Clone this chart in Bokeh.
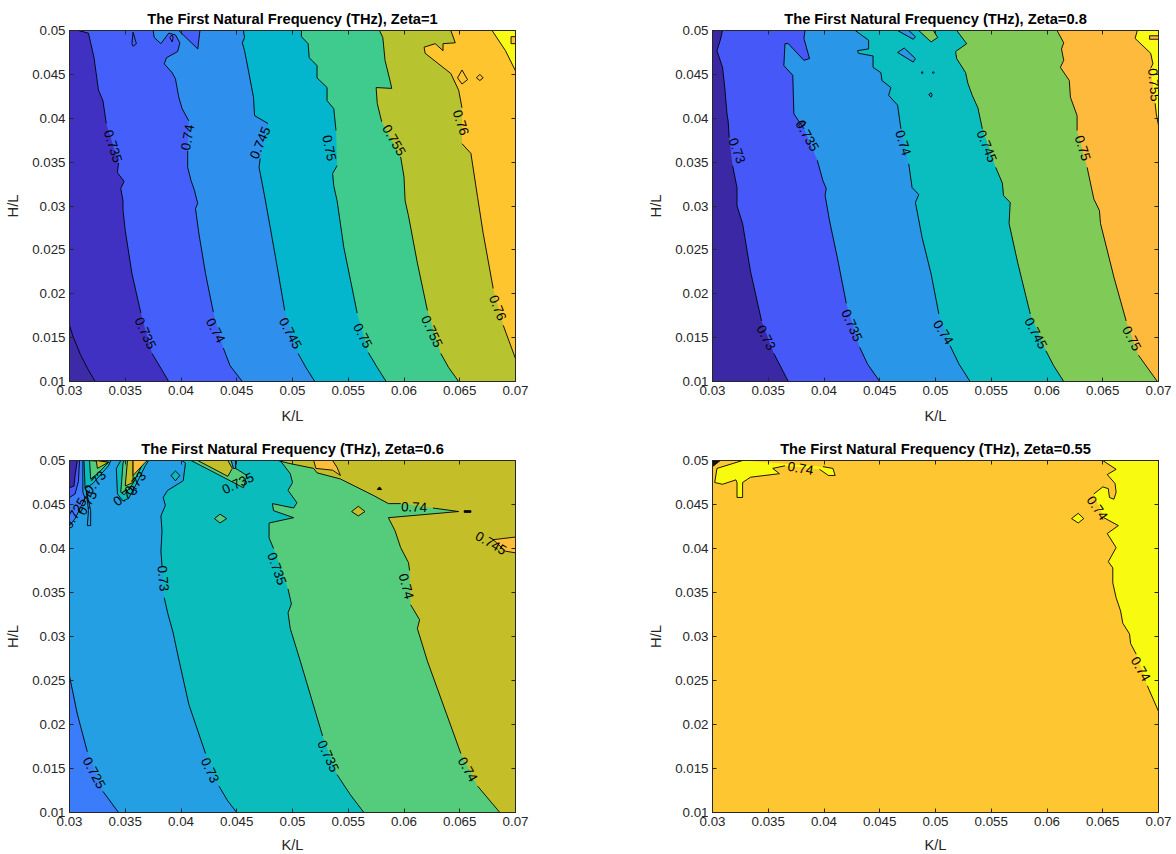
from bokeh.plotting import figure
from bokeh.layouts import gridplot
from bokeh.models import Range1d, LinearAxis, FixedTicker, Title
from bokeh.core.properties import value
from bokeh.embed import file_html
from bokeh.resources import INLINE

X_TICKS = [0.03, 0.035, 0.04, 0.045, 0.05, 0.055, 0.06, 0.065, 0.07]
Y_TICKS = [0.01, 0.015, 0.02, 0.025, 0.03, 0.035, 0.04, 0.045, 0.05]
X_LABELS = ["0.03", "0.035", "0.04", "0.045", "0.05", "0.055", "0.06", "0.065", "0.07"]
Y_LABELS = ["0.01", "0.015", "0.02", "0.025", "0.03", "0.035", "0.04", "0.045", "0.05"]
TITLES = ["The First Natural Frequency (THz), Zeta=1", "The First Natural Frequency (THz), Zeta=0.8",
          "The First Natural Frequency (THz), Zeta=0.6", "The First Natural Frequency (THz), Zeta=0.55"]

# ---------- Zeta = 1 : contour lines, each split where its labels sit ----------
P1_C730 = [[(.03,.0164),(.0303,.0152),(.031,.013),(.0317,.0113),(.0323,.01)]]
P1_C735 = [[(.0308,.05),(.0317,.0497),(.0322,.0469),(.0326,.0432),(.033,.042),(.0333,.0394)],
           [(.0344,.0349),(.0343,.0338),(.0349,.0328),(.0346,.032),(.0348,.0306),(.0348,.0295),(.035,.0272),(.0356,.0223),(.0364,.0178)],
           [(.0374,.0132),(.0382,.0115),(.0389,.01)]]
P1_C740 = [[(.0375,.05),(.0376,.0492),(.0382,.0485),(.0389,.0497),(.0395,.0495),(.0399,.0486),(.0397,.0476),(.0387,.0469),(.0385,.0462),(.0392,.0452),(.0395,.0445),(.0398,.0424),(.0401,.0411),(.0407,.0397)],
           [(.0406,.0363),(.0406,.0344),(.0409,.0329),(.0412,.0318),(.0415,.0303),(.0413,.0297),(.0416,.0269),(.0422,.0223),(.0429,.0179)],
           [(.0438,.0138),(.0444,.0118),(.0455,.01)]]
P1_C745 = [[(.0456,.05),(.0457,.0492),(.0455,.0486),(.0457,.0477),(.0461,.0451),(.0465,.0424),(.0466,.0403),(.0478,.0394)],
           [(.0471,.0354),(.047,.0344),(.0474,.0318),(.0479,.0283),(.0485,.024),(.0493,.0181)],
           [(.0505,.0132),(.0512,.0116),(.052,.01)]]
P1_C750 = [[(.0508,.05),(.0508,.0493),(.0514,.0485),(.0515,.0469),(.0522,.046),(.0522,.0446),(.0531,.0435),(.0531,.042),(.0537,.0411),(.0539,.0386)],
           [(.054,.0346),(.0536,.0337),(.0537,.0323),(.054,.0306),(.0546,.0253),(.0558,.0178)],
           [(.0568,.0133),(.0576,.0116),(.0584,.01)]]
P1_C755 = [[(.0578,.05),(.0581,.0492),(.0583,.0466),(.0588,.044),(.0589,.0434),(.0575,.0435),(.0576,.0417),(.058,.0396)],
           [(.0597,.0356),(.06,.0333),(.0601,.0306),(.0604,.0289),(.0612,.0235),(.0621,.0181)],
           [(.0633,.0132),(.064,.0116),(.0649,.01)]]
P1_C760 = [[(.0642,.05),(.0646,.0486),(.0635,.0485),(.0635,.0477),(.0628,.0485),(.0618,.0481),(.0619,.0474),(.0642,.0451),(.0649,.0432),(.0652,.0412)],
           [(.0652,.0371),(.066,.036),(.0666,.031),(.0671,.0269),(.068,.0206)],
           [(.0689,.0164),(.07,.0126)]]
P1_C765 = [[(.0679,.05),(.0691,.0477),(.07,.0454)]]
P1_CONTOURS = [P1_C730, P1_C735, P1_C740, P1_C745, P1_C750, P1_C755, P1_C760, P1_C765]
P1_BASE = "#3D2AA6"
P1_COLORS = ["#4131C2", "#4560FA", "#2E8FEC", "#03B6CD", "#3FCB8D", "#B7C42F", "#FEC52E", "#F9FB14"]
P1_ISLANDS = [([(.0356,.0485),(.0357,.0498),(.036,.0485),(.0357,.0482)], "#4560FA"),
              ([(.039,.0492),(.0392,.0495),(.0393,.0492),(.0392,.0487)], "#4560FA"),
              ([(.0398,.05),(.0415,.0479),(.0417,.05)], "#4560FA"),
              ([(.0648,.0446),(.0652,.0455),(.0657,.0444),(.0652,.0439)], "#FEC52E"),
              ([(.0665,.0446),(.0668,.045),(.0671,.0446),(.0668,.0443)], "#FEC52E"),
              ([(.0696,.0493),(.07,.0493),(.07,.0485),(.0696,.0485)], "#FEC52E")]
P1_LABELS = [("0.735",.0339,.0368,-72),("0.735",.0368,.0155,-65),("0.74",.0406,.0378,80),("0.74",.0431,.0158,-62),
             ("0.745",.0471,.0372,67),("0.745",.0498,.0155,-62),("0.75",.0533,.0366,-78),("0.75",.0563,.0152,-62),
             ("0.755",.0591,.0375,-60),("0.755",.0625,.0157,-65),("0.76",.0651,.0395,-72),("0.76",.0684,.0184,-68)]

# ---------- Zeta = 0.8 ----------
P2_C730 = [[(.0309,.05),(.0307,.0489),(.0304,.0477),(.0309,.0458),(.0311,.0435),(.0313,.0405),(.0314,.0397),(.0315,.0378)],
           [(.0318,.0346),(.0322,.0321),(.0322,.03),(.0327,.028),(.0334,.0226),(.0344,.0169)],
           [(.0355,.0132),(.0368,.01)]]
P2_C735 = [[(.0383,.05),(.0382,.0491),(.0387,.0468),(.0382,.0466),(.0368,.0485),(.0365,.0485),(.0364,.046),(.0372,.0449),(.0373,.0405),(.0382,.0388)],
           [(.0394,.0352),(.0399,.0329),(.0402,.032),(.0401,.0312),(.0405,.0283),(.0412,.0241),(.042,.0189)],
           [(.0432,.0139),(.0439,.012),(.045,.01)]]
P2_C740 = [[(.0428,.05),(.044,.0489),(.044,.0479),(.043,.0477),(.0431,.0474),(.0444,.0471),(.0444,.0458),(.0451,.0452),(.0452,.0443),(.046,.0435),(.0458,.0426),(.0466,.0415),(.0469,.0388)],
           [(.0476,.0348),(.0479,.0321),(.0485,.0313),(.0482,.0304),(.0488,.0264),(.0496,.0223),(.0503,.0177)],
           [(.0513,.0141),(.0521,.012),(.0531,.01)]]
P2_C745 = [[(.0519,.05),(.0528,.0485),(.0518,.0476),(.0519,.0468),(.0527,.0452),(.0529,.044),(.0533,.0426),(.0538,.0412),(.0542,.0388)],
           [(.0554,.0344),(.056,.0326),(.0561,.0312),(.0567,.0304),(.0566,.028),(.0574,.0234),(.0585,.0177)],
           [(.0599,.0135),(.0606,.0118),(.0615,.01)]]
P2_C750 = [[(.0609,.05),(.0615,.0486),(.0613,.0479),(.0615,.0466),(.0612,.0458),(.062,.0443),(.0621,.0424),(.0627,.0403),(.0627,.0386)],
           [(.0636,.0344),(.0642,.0308),(.0647,.0295),(.0648,.028),(.066,.0219),(.0671,.0169)],
           [(.0682,.013),(.0699,.01)]]
P2_C755 = [[(.0681,.05),(.0679,.0491),(.0693,.0474),(.0695,.0462),(.0693,.0457)],
           [(.0697,.0417),(.0698,.0405),(.07,.0392)]]
P2_CONTOURS = [P2_C730, P2_C735, P2_C740, P2_C745, P2_C750, P2_C755]
P2_BASE = "#3B28A4"
P2_COLORS = ["#4658F8", "#2A96E8", "#0ABDBE", "#80CB58", "#FDBA3C", "#F9FB14"]
P2_ISLANDS = [([(.0466,.05),(.048,.049),(.0482,.0493),(.0476,.05)], "#2A96E8"),
              ([(.0485,.05),(.0496,.0487),(.0502,.0492),(.0498,.05)], "#80CB58"),
              ([(.0466,.0475),(.0472,.048),(.0482,.0468),(.048,.0464)], "#2A96E8"),
              ([(.0487,.0452),(.0488,.0453),(.0489,.0452),(.0488,.0451)], "#2A96E8"),
              ([(.0497,.0452),(.0498,.0453),(.0499,.0452),(.0498,.0451)], "#2A96E8"),
              ([(.0494,.0427),(.0496,.0429),(.0497,.0427),(.0496,.0424)], "#2A96E8"),
              ([(.0377,.0392),(.0382,.0397),(.0384,.0395),(.0379,.039)], "#4658F8"),
              ([(.0692,.0494),(.07,.0494),(.07,.049),(.0692,.049)], "#FDBA3C")]
P2_LABELS = [("0.73",.0322,.0363,-70),("0.73",.0348,.015,-62),("0.735",.0385,.038,-60),("0.735",.0425,.0164,-66),
             ("0.74",.0471,.0372,-72),("0.74",.0507,.0156,-58),("0.745",.0546,.0368,-68),("0.745",.059,.0155,-62),
             ("0.75",.0632,.0366,-72),("0.75",.0676,.0149,-62),("0.755",.0696,.0438,-85)]

# ---------- Zeta = 0.6 ----------
P3_C725 = [[(.03,.0255),(.0307,.0212),(.0316,.0169)], [(.033,.0124),(.0344,.01)]]
P3_C730 = [[(.0401,.05),(.0404,.0497),(.0402,.0477),(.0388,.0466),(.0384,.0458),(.0386,.0449),(.0382,.0437),(.0383,.042),(.0382,.0397),(.0383,.038)],
           [(.0385,.0344),(.0388,.0327),(.0393,.0304),(.0397,.028),(.0407,.0223),(.0422,.0167)],
           [(.0434,.013),(.0442,.0113),(.045,.01)]]
P3_C735 = [[(.0489,.05),(.0498,.0485),(.05,.0475),(.0496,.0466),(.0504,.0452),(.0501,.0446),(.0482,.0451),(.0483,.0443),(.0501,.0435),(.0479,.0429),(.0479,.0412),(.0483,.04)],
           [(.0496,.0354),(.0499,.0337),(.0496,.0327),(.0498,.0309),(.0507,.0272),(.0527,.0187)],
           [(.054,.0143),(.0552,.012),(.0564,.01)]]
P3_C740 = [[(.0487,.05),(.0496,.0497),(.0519,.0491),(.0522,.0486),(.0543,.0479),(.0573,.046),(.0586,.0451),(.0597,.0451)],
           [(.0626,.0446),(.0649,.0442),(.0586,.0435),(.0592,.042),(.0597,.0401),(.0604,.0384),(.0605,.0375)],
           [(.0606,.0336),(.0614,.0319),(.0612,.0309),(.0621,.0272),(.0651,.0167)],
           [(.0666,.013),(.0686,.01)]]
P3_CONTOURS = [P3_C725, P3_C730, P3_C735, P3_C740]
P3_BASE = "#3A7CFA"
P3_COLORS = ["#249FE3", "#0ABDBC", "#55CC7B", "#C4BE28"]
P3_ISLANDS = [([(.03,.05),(.0312,.05),(.0312,.0464),(.0314,.0457),(.0305,.0434),(.03,.0426)], "#3A7CFA"),
              ([(.03,.05),(.0309,.05),(.0308,.0476),(.0305,.0462),(.03,.0458)], "#4457FA"),
              ([(.03,.05),(.0307,.05),(.0305,.0483),(.0304,.0471),(.03,.0469)], "#3D2AA6"),
              ([(.0313,.05),(.0314,.0468),(.0321,.0474),(.0335,.0494),(.0337,.05)], "#0ABDBC"),
              ([(.0318,.05),(.0319,.0479),(.0326,.0486),(.0335,.0498)], "#55CC7B"),
              ([(.0324,.05),(.0325,.0491),(.0335,.0498)], "#C4BE28"),
              ([(.0315,.0466),(.0319,.0443),(.0319,.0426),(.0316,.0426),(.0317,.0443)], "#249FE3"),
              ([(.0346,.05),(.0342,.0491),(.0343,.0462),(.0348,.0454),(.0353,.0457),(.0359,.0471),(.0368,.0494),(.0371,.05)], "#0ABDBC"),
              ([(.0348,.0497),(.0346,.0464),(.0349,.0461),(.0357,.0474),(.0366,.0497),(.0364,.05),(.0349,.05)], "#55CC7B"),
              ([(.0352,.05),(.035,.0471),(.0357,.0475),(.0357,.05)], "#C4BE28"),
              ([(.0357,.05),(.0357,.0483),(.0368,.0498),(.037,.05)], "#FEBE3A"),
              ([(.0409,.05),(.0438,.0481),(.0456,.0469),(.0459,.0483),(.0449,.0491),(.0449,.05)], "#55CC7B"),
              ([(.0415,.05),(.0442,.0482),(.0446,.0491),(.0442,.05)], "#C4BE28"),
              ([(.0445,.05),(.0447,.0491),(.0449,.0491),(.0449,.05)], "#249FE3"),
              ([(.0519,.05),(.0521,.0491),(.0536,.0489),(.0543,.0483),(.054,.0492),(.0536,.05)], "#FEBE3A"),
              ([(.068,.041),(.07,.0413),(.07,.0395),(.0691,.0397)], "#FEBE3A"),
              ([(.0391,.0483),(.0395,.0488),(.0399,.0483),(.0395,.0477)], "#0ABDBC"),
              ([(.043,.0434),(.0435,.0439),(.0441,.0434),(.0435,.0429)], "#55CC7B"),
              ([(.0553,.0442),(.0559,.0448),(.0565,.0442),(.0559,.0437)], "#C4BE28"),
              ([(.0576,.0467),(.0578,.047),(.058,.0467)], "#000000"),
              ([(.0654,.0443),(.066,.0443),(.066,.0441),(.0654,.0441)], "#000000")]
P3_LABELS = [("0.725",.0322,.0145,-62),("0.73",.0384,.0366,-85),("0.73",.0426,.0148,-65),("0.735",.0486,.0377,-70),
             ("0.735",.0532,.0164,-65),("0.74",.0609,.0447,-2),("0.74",.0602,.0357,-75),("0.74",.0657,.0149,-60),
             ("0.745",.0678,.0406,-30),("0.735",.0451,.0474,25),("0.725",.0305,.044,60),("0.73",.0323,.0475,50),
             ("0.75",.0316,.0452,60),("0.73",.035,.046,35),("0.73",.0359,.0474,50)]

# ---------- Zeta = 0.55 ----------
P4_C740 = [[(.065,.05),(.0662,.049),(.0654,.0484),(.0661,.0474),(.0662,.0464),(.066,.0456),(.0656,.0458),(.0655,.0468),(.065,.047),(.0642,.0462)],
           [(.0651,.0435),(.0664,.0426),(.0654,.0417),(.0662,.0401),(.0655,.0385),(.0659,.0378),(.0659,.0361),(.0662,.0344),(.0666,.0329),(.0668,.0315),(.0674,.0303),(.0675,.0292),(.068,.028)],
           [(.069,.0244),(.07,.0215)]]
P4_CONTOURS = [P4_C740]
P4_BASE = "#FEC631"
P4_COLORS = ["#F8FA0F"]
P4_TOP_LEFT = [[(.0327,.05),(.0304,.0491),(.0302,.0475),(.0309,.0473),(.0321,.0478),(.0322,.0475),(.0322,.0458),(.0327,.0458),(.0327,.0475),(.0334,.0481),(.036,.0485),(.0354,.0491),(.0365,.0494)],
               [(.0396,.049),(.0404,.0483),(.041,.0483),(.0408,.0491),(.0399,.0493)]]
P4_ISLANDS = [([(.0622,.0434),(.0628,.044),(.0633,.0434),(.0628,.0429)], "#F8FA0F"),
              ([(.03,.05),(.0307,.05),(.03,.0493)], "#111111")]
P4_LABELS = [("0.74",.0379,.0491,-10),("0.74",.0645,.0446,-55),("0.74",.0684,.0263,-60)]

FONT = "Liberation Sans"
INK = "#262626"
XMIN, XMAX, YMIN, YMAX = X_TICKS[0], X_TICKS[-1], Y_TICKS[0], Y_TICKS[-1]


def overrides(ticks, labels):
    return {t: s for t, s in zip(ticks, labels)}


def style_axis(ax, ticks, labels, show):
    ax.ticker = FixedTicker(ticks=ticks)
    ax.major_tick_in = 4
    ax.major_tick_out = 0
    ax.minor_tick_line_color = None
    ax.major_tick_line_color = INK
    ax.axis_line_color = INK
    ax.major_tick_line_width = 1
    ax.axis_line_width = 1
    if show:
        ax.major_label_overrides = overrides(ticks, labels)
        ax.major_label_text_font = FONT
        ax.major_label_text_font_size = "13.33px"
        ax.major_label_text_color = INK
        ax.major_label_standoff = 4
    else:
        ax.major_label_overrides = {t: "" for t in ticks}
        ax.major_label_standoff = 0
        ax.major_label_text_font_size = "1px"


def panel(title, base, colors, contours, islands, labels, left, right, top, bottom, fh, xlabel_gap, extra_lines=()):
    p = figure(frame_width=446, frame_height=fh, x_range=Range1d(XMIN, XMAX), y_range=Range1d(YMIN, YMAX),
               output_backend="svg", toolbar_location=None, min_border_left=left, min_border_right=right,
               min_border_top=top, min_border_bottom=bottom, background_fill_color=base,
               x_axis_label="K/L", y_axis_label="H/L")
    p.grid.visible = False
    p.outline_line_color = INK
    p.title = Title(text=title, align="center", text_font=FONT, text_font_size="14.67px",
                    text_font_style="bold", text_color="#000000", standoff=7, offset=0)
    style_axis(p.xaxis[0], X_TICKS, X_LABELS, True)
    style_axis(p.yaxis[0], Y_TICKS, Y_LABELS, True)
    for ax in list(p.xaxis) + list(p.yaxis):
        ax.axis_label_text_font = FONT
        ax.axis_label_text_font_size = "14.67px"
        ax.axis_label_text_font_style = "normal"
        ax.axis_label_text_color = INK
    p.xaxis[0].axis_label_standoff = xlabel_gap
    p.yaxis[0].axis_label_standoff = 8
    top_ax = LinearAxis()
    style_axis(top_ax, X_TICKS, X_LABELS, False)
    p.add_layout(top_ax, "above")
    right_ax = LinearAxis()
    style_axis(right_ax, Y_TICKS, Y_LABELS, False)
    p.add_layout(right_ax, "right")

    seg_x, seg_y = [], []
    for segs, col in zip(contours, colors):
        pts = [q for s in segs for q in s]
        xs = [q[0] for q in pts]
        ys = [q[1] for q in pts]
        if ys[0] < YMAX:
            xs.insert(0, xs[0])
            ys.insert(0, YMAX)
        if ys[-1] == YMIN:
            xs.append(XMAX)
            ys.append(YMIN)
        xs.append(XMAX)
        ys.append(YMAX)
        p.patch(xs, ys, fill_color=col, line_color=None)
        for s in segs:
            seg_x.append([q[0] for q in s])
            seg_y.append([q[1] for q in s])
    for pts, col in islands:
        xs = [q[0] for q in pts]
        ys = [q[1] for q in pts]
        p.patch(xs + xs[:1], ys + ys[:1], fill_color=col, line_color="#000000", line_width=0.9)
    for segs, col in extra_lines:
        pts = [q for s in segs for q in s]
        p.patch([q[0] for q in pts], [q[1] for q in pts], fill_color=col, line_color=None)
        for s in segs:
            seg_x.append([q[0] for q in s])
            seg_y.append([q[1] for q in s])
    p.multi_line(seg_x, seg_y, line_color="#000000", line_width=0.9)
    p.text([l[1] for l in labels], [l[2] for l in labels], text=[l[0] for l in labels],
           angle=[l[3] for l in labels], angle_units="deg", text_font=value(FONT), text_font_size="13.33px",
           text_color="#000000", text_align="center", text_baseline="middle")
    return p


p1 = panel(TITLES[0], P1_BASE, P1_COLORS, P1_CONTOURS, P1_ISLANDS, P1_LABELS, 69, 65, 30, 49, 351, 10)
p2 = panel(TITLES[1], P2_BASE, P2_COLORS, P2_CONTOURS, P2_ISLANDS, P2_LABELS, 132, 18, 30, 49, 351, 10)
p3 = panel(TITLES[2], P3_BASE, P3_COLORS, P3_CONTOURS, P3_ISLANDS, P3_LABELS, 69, 65, 30, 42, 352, 8)
p4 = panel(TITLES[3], P4_BASE, P4_COLORS, P4_CONTOURS, P4_ISLANDS, P4_LABELS, 132, 18, 30, 42, 352, 8,
           extra_lines=[(P4_TOP_LEFT, "#F8FA0F")])

grid = gridplot([[p1, p2], [p3, p4]], toolbar_location=None, merge_tools=False)
open("out.html", "w").write(file_html(grid, INLINE))
